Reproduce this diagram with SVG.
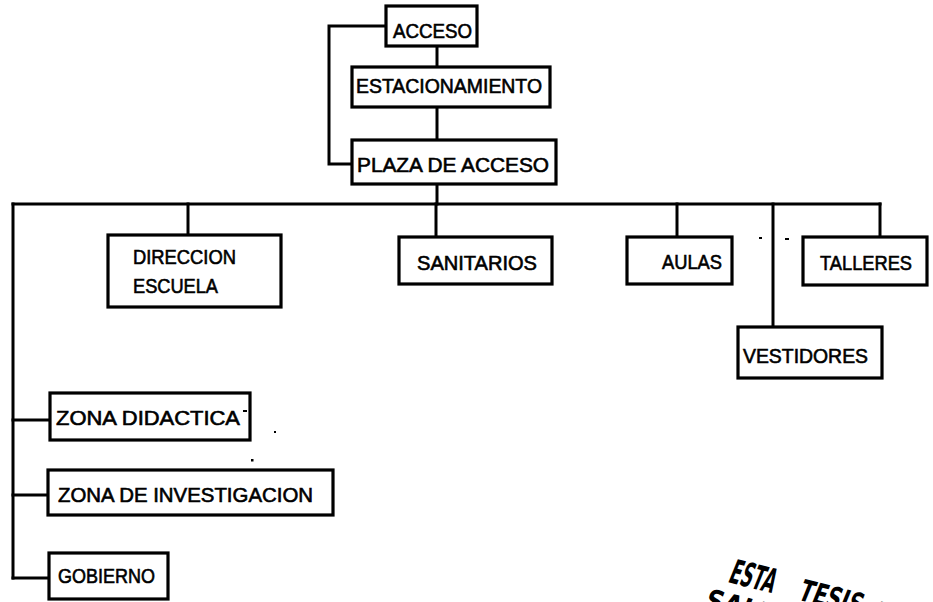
<svg xmlns="http://www.w3.org/2000/svg" width="933" height="602" viewBox="0 0 933 602">
<style>
.box{fill:#fff;stroke:#000;stroke-width:3.2;stroke-linejoin:miter}
.ln{fill:none;stroke:#000;stroke-width:3;stroke-linecap:square}
.t{font-family:"Liberation Sans",Arial,sans-serif;font-size:20px;fill:#000;stroke:#000;stroke-width:0.6}
.st{font-family:"DejaVu Sans Condensed","Liberation Sans",sans-serif;font-weight:bold;fill:#000}
.dot{fill:#000}
</style>
<rect width="933" height="602" fill="#fff"/>
<g id="connectors">
<path class="ln" d="M386 26 H329 V164 H352"/>
<path class="ln" d="M437 46 V67"/>
<path class="ln" d="M437 107 V140"/>
<path class="ln" d="M437 184 V204"/>
<path class="ln" d="M13 204 H880"/>
<path class="ln" d="M188 204 V235"/>
<path class="ln" d="M436 204 V237"/>
<path class="ln" d="M677 204 V237"/>
<path class="ln" d="M773 204 V327"/>
<path class="ln" d="M880 204 V237"/>
<path class="ln" d="M13 204 V578"/>
<path class="ln" d="M13 420 H50"/>
<path class="ln" d="M13 495 H48"/>
<path class="ln" d="M13 578 H49"/>
</g>
<g id="acceso"><rect class="box" x="386" y="6" width="91" height="40"/><text class="t" x="393" y="38" textLength="79" lengthAdjust="spacingAndGlyphs">ACCESO</text></g>
<g id="estacionamiento"><rect class="box" x="352" y="67" width="198" height="40"/><text class="t" x="356" y="93" textLength="186" lengthAdjust="spacingAndGlyphs">ESTACIONAMIENTO</text></g>
<g id="plaza"><rect class="box" x="352" y="140" width="204" height="44"/><text class="t" x="357" y="172" textLength="192" lengthAdjust="spacingAndGlyphs">PLAZA DE ACCESO</text></g>
<g id="direccion"><rect class="box" x="108" y="235" width="173" height="72"/><text class="t" x="133" y="264" textLength="103" lengthAdjust="spacingAndGlyphs">DIRECCION</text><text class="t" x="133" y="293" textLength="85" lengthAdjust="spacingAndGlyphs">ESCUELA</text></g>
<g id="sanitarios"><rect class="box" x="399" y="237" width="153" height="47"/><text class="t" x="417" y="270" textLength="120" lengthAdjust="spacingAndGlyphs">SANITARIOS</text></g>
<g id="aulas"><rect class="box" x="627" y="237" width="105" height="47"/><text class="t" x="662" y="269" textLength="60" lengthAdjust="spacingAndGlyphs">AULAS</text></g>
<g id="talleres"><rect class="box" x="803" y="237" width="124" height="48"/><text class="t" x="820" y="270" textLength="92" lengthAdjust="spacingAndGlyphs">TALLERES</text></g>
<g id="vestidores"><rect class="box" x="738" y="327" width="144" height="51"/><text class="t" x="743" y="363" textLength="125" lengthAdjust="spacingAndGlyphs">VESTIDORES</text></g>
<g id="zona-didactica"><rect class="box" x="50" y="393" width="200" height="47"/><text class="t" x="56" y="425" textLength="184" lengthAdjust="spacingAndGlyphs">ZONA DIDACTICA</text></g>
<g id="zona-investigacion"><rect class="box" x="48" y="470" width="285" height="45"/><text class="t" x="58" y="502" textLength="255" lengthAdjust="spacingAndGlyphs">ZONA DE INVESTIGACION</text></g>
<g id="gobierno"><rect class="box" x="49" y="553" width="119" height="46"/><text class="t" x="58" y="583" textLength="97" lengthAdjust="spacingAndGlyphs">GOBIERNO</text></g>
<g id="marks">
<rect class="dot" x="243" y="410" width="4" height="2"/>
<rect class="dot" x="274" y="431" width="2" height="2"/>
<rect class="dot" x="251" y="459" width="2.5" height="2.5"/>
<rect class="dot" x="759" y="237" width="3" height="2"/>
<rect class="dot" x="785" y="238" width="4" height="2"/>
</g>
<g id="stamp" transform="translate(727,582) rotate(14) skewX(-8)">
<text class="st" x="0" y="0" font-size="34" textLength="46" lengthAdjust="spacingAndGlyphs">ESTA</text>
<text class="st" x="72" y="0" font-size="30" font-weight="normal" textLength="64" lengthAdjust="spacingAndGlyphs">TESIS</text>
<text class="st" x="150" y="2" font-size="28" textLength="34" lengthAdjust="spacingAndGlyphs">NO</text>
<text class="st" x="-13" y="32" font-size="30" textLength="80" lengthAdjust="spacingAndGlyphs">SALIR</text>
</g>
</svg>
